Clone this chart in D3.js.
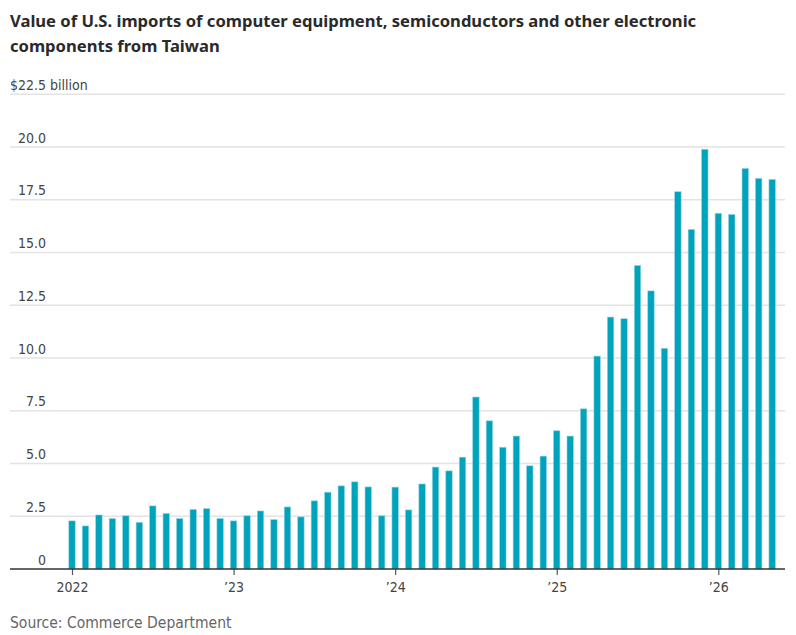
<!DOCTYPE html>
<html>
<head>
<meta charset="utf-8" />
<title>U.S. imports from Taiwan</title>
<script src="https://cdn.jsdelivr.net/npm/d3@7"></script>
<style type="text/css">
body {
	margin: 0;
	background: #fff;
}
svg text {
	font-family: "Liberation Sans Narrow", "DejaVu Sans Condensed", "Roboto", sans-serif;
}
.title {
	font-family: "Noto Sans", "Open Sans", sans-serif !important;
	font-weight: bold;
	font-size: 16.6px;
	fill: #2a2a2a;
}
.lbl {
	font-size: 14px;
	fill: #444;
}
.source {
	font-size: 15.5px;
	fill: #666;
}
</style>
</head>
<body>
<svg id="chart" width="796" height="635"></svg>
<script type="text/javascript">
// monthly values, $ billion
var v2022 = [2.28, 2.04, 2.56, 2.39, 2.52, 2.21, 2.99, 2.63, 2.39, 2.82, 2.86, 2.39];
var v2023 = [2.28, 2.52, 2.75, 2.34, 2.94, 2.47, 3.23, 3.64, 3.94, 4.13, 3.89, 2.52];
var v2024 = [3.88, 2.80, 4.03, 4.83, 4.65, 5.30, 8.15, 7.02, 5.77, 6.30, 4.89, 5.35];
var v2025 = [6.55, 6.30, 7.59, 10.09, 11.94, 11.86, 14.38, 13.18, 10.46, 17.88, 16.09, 19.89];
var v2026 = [16.86, 16.80, 18.98, 18.51, 18.46];

var values = [].concat(v2022, v2023, v2024, v2025, v2026);

var yTicks = [0, 2.5, 5, 7.5, 10, 12.5, 15, 17.5, 20, 22.5];
var xTicks = [0, 12, 24, 36, 48];          // month index of each January
var xTickLabels = ["2022", "\u201923", "\u201924", "\u201925", "\u201926"];

var titleLines = [
	"Value of U.S. imports of computer equipment, semiconductors and other electronic",
	"components from Taiwan"
];

var svg = d3.select("#chart");

var x = d3.scaleLinear().domain([0, 48]).range([72, 718.3]);
var y = d3.scaleLinear().domain([0, 22.5]).range([569, 94.25]);

var left = 10, right = 785, barW = 6.4;

svg.selectAll("text.title")
	.data(titleLines)
	.enter().append("text")
	.attr("class", "title")
	.attr("x", 10)
	.attr("y", function(d, i) { return 26.5 + i * 25; })
	.text(function(d) { return d; });

// grid
var grid = svg.append("g");
grid.selectAll("line")
	.data(yTicks.filter(function(d) { return d > 0; }))
	.enter().append("line")
	.attr("x1", left).attr("x2", right)
	.attr("y1", function(d) { return y(d); })
	.attr("y2", function(d) { return y(d); })
	.attr("stroke", "#e3e3e3")
	.attr("stroke-width", 1.3);

grid.selectAll("text")
	.data(yTicks)
	.enter().append("text")
	.attr("class", "lbl")
	.attr("x", function(d) { return d == 22.5 ? left : 46; })
	.attr("y", function(d) { return y(d) - 4.5; })
	.attr("text-anchor", function(d) { return d == 22.5 ? "start" : "end"; })
	.text(function(d) {
		if (d == 0) return "0";
		if (d == 22.5) return "$22.5 billion";
		return d3.format(".1f")(d);
	});

// bars
svg.append("g").selectAll("rect")
	.data(values)
	.enter().append("rect")
	.attr("x", function(d, i) { return x(i) - barW / 2; })
	.attr("y", function(d) { return y(d); })
	.attr("width", barW)
	.attr("height", function(d) { return y(0) - y(d); })
	.attr("fill", "#00a3bc")
	.attr("stroke", "#8fd3de")
	.attr("stroke-width", 0.6);

// x axis
var xAxis = d3.axisBottom(x)
	.tickValues(xTicks)
	.tickFormat(function(d, i) { return xTickLabels[i]; })
	.tickSize(6)
	.tickPadding(7);

var ax = svg.append("g")
	.attr("transform", "translate(0," + y(0) + ")")
	.call(xAxis);
ax.select(".domain").remove();
ax.selectAll(".tick line").attr("stroke", "#555").attr("stroke-width", 1.2);
ax.selectAll(".tick text")
	.attr("class", "lbl")
	.attr("fill", null);
ax.attr("font-family", null).attr("font-size", null);

svg.append("line")
	.attr("x1", left).attr("x2", right)
	.attr("y1", y(0)).attr("y2", y(0))
	.attr("stroke", "#333")
	.attr("stroke-width", 1.3);

svg.append("text")
	.attr("class", "source")
	.attr("x", 10)
	.attr("y", 628)
	.text("Source: Commerce Department");
</script>
</body>
</html>
